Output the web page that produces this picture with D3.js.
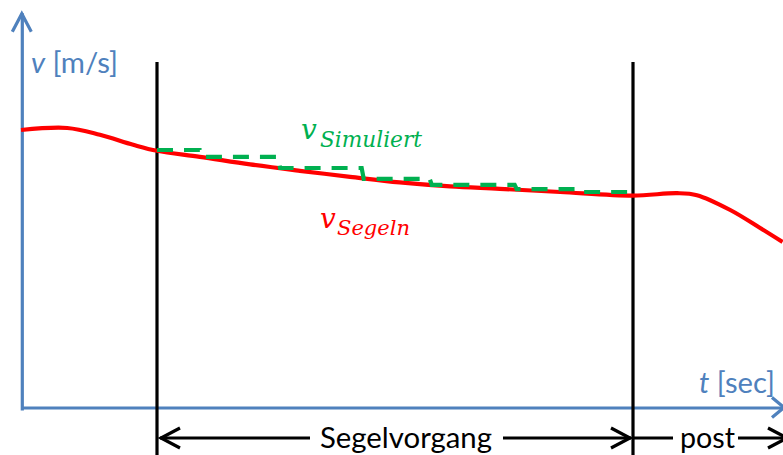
<!DOCTYPE html>
<html>
<head>
<meta charset="utf-8">
<script src="https://cdn.jsdelivr.net/npm/d3@7"></script>
<style>
  html, body { margin: 0; padding: 0; background: #fff; }
  svg { display: block; }
</style>
</head>
<body>
<svg id="chart" width="783" height="455"></svg>
<script>
// Measured speed while sailing (t in s, v in m/s)
const segelTime  = [0, 0.68, 1.16, 1.65, 2.0, 2.63, 3.37, 4.1, 4.84, 5.57, 6.31, 7.04, 7.93, 9.0, 9.65, 9.94, 10.43, 10.87, 11.2];
const segelSpeed = [6.95, 7.0, 6.83, 6.58, 6.43, 6.28, 6.09, 5.93, 5.78, 5.64, 5.54, 5.48, 5.4, 5.31, 5.37, 5.32, 4.95, 4.5, 4.15];

// Simulated speed: piecewise constant steps during the sailing phase
const simStepStart = [2.0, 2.63, 3.78, 5.01, 6.01, 7.26, 8.22];
const simStepSpeed = [6.45, 6.28, 6.0, 5.73, 5.58, 5.47, 5.4];
const simEnd = 9.0;

// Phase boundaries
const phaseBounds = [2.0, 9.0];
const phaseLabels = ["Segelvorgang", "post"];

const W = 783, H = 455;
const BLUE = "#4F81BD", RED = "#FF0000", GREEN = "#00B050";
const svg = d3.select("#chart");
svg.append("rect").attr("width", W).attr("height", H).attr("fill", "#fff");

const x = d3.scaleLinear().domain([0, 11.2]).range([21, 782.6]);
const y = d3.scaleLinear().domain([0, 10]).range([408, 8]);

// fit a text element to a given width by adjusting its font size
function fit(sel, width) {
  const base = parseFloat(sel.attr("font-size"));
  const w = sel.node().getComputedTextLength();
  sel.attr("font-size", (base * width / w).toFixed(2));
  return sel;
}

// Axes (domain lines only, no ticks)
const xAxisG = svg.append("g").attr("transform", `translate(0,${y(0) - 0.5})`)
  .call(d3.axisBottom(x).tickValues([]).tickSizeOuter(0));
const yAxisG = svg.append("g").attr("transform", `translate(${x(0) + 0.8},0)`)
  .call(d3.axisLeft(y.copy().domain([0, 9.88]).range([y(0) + 2, y(9.88)])).tickValues([]).tickSizeOuter(0));
[xAxisG, yAxisG].forEach(g => g.select(".domain").attr("stroke", BLUE).attr("stroke-width", 3.2));

// Axis arrow heads
const yTop = y(9.88), xAxisY = y(0) - 0.5, yAxisX = x(0) + 0.8;
svg.append("path")
  .attr("d", `M${yAxisX - 9.5},${yTop + 19}L${yAxisX},${yTop + 1}L${yAxisX + 9.5},${yTop + 19}`)
  .attr("fill", "none").attr("stroke", BLUE).attr("stroke-width", 3.2);
svg.append("path")
  .attr("d", `M${W - 11},${xAxisY - 10}L${W + 1},${xAxisY}L${W - 11},${xAxisY + 10}`)
  .attr("fill", "none").attr("stroke", BLUE).attr("stroke-width", 3.2);

// Axis titles
const vTitle = svg.append("text").attr("x", 31).attr("y", 73)
  .attr("font-family", "Lato, 'Open Sans', sans-serif").attr("font-size", 28).attr("fill", BLUE);
vTitle.append("tspan").attr("font-style", "italic").text("v");
vTitle.append("tspan").text(" [m/s]");
fit(vTitle, 87);

const tTitle = svg.append("text").attr("x", 699).attr("y", 393)
  .attr("font-family", "Lato, 'Open Sans', sans-serif").attr("font-size", 28).attr("fill", BLUE);
tTitle.append("tspan").attr("font-style", "italic").text("t");
tTitle.append("tspan").text(" [sec]");
fit(tTitle, 76);

// Phase boundary lines
phaseBounds.forEach(t => {
  svg.append("line")
    .attr("x1", x(t)).attr("x2", x(t))
    .attr("y1", y(8.65)).attr("y2", H + 2)
    .attr("stroke", "#000").attr("stroke-width", 3.2);
});

// Measured sailing speed
const line = d3.line().x(d => x(d[0])).y(d => y(d[1])).curve(d3.curveCatmullRom.alpha(0.5));
svg.append("path")
  .datum(segelTime.map((t, i) => [t, segelSpeed[i]]))
  .attr("d", line)
  .attr("fill", "none").attr("stroke", RED).attr("stroke-width", 4.2)
  .attr("stroke-linejoin", "round");

// Simulated speed as a stepped dashed line
const simPts = [];
simStepStart.forEach((t, i) => {
  if (i > 0) simPts.push([t, simStepSpeed[i - 1]]);
  simPts.push([i > 0 ? t + 0.03 : t, simStepSpeed[i]]);
});
simPts.push([simEnd, simStepSpeed[simStepSpeed.length - 1]]);
svg.append("path")
  .datum(simPts)
  .attr("d", d3.line().x(d => x(d[0])).y(d => y(d[1])))
  .attr("fill", "none").attr("stroke", GREEN).attr("stroke-width", 4.2)
  .attr("stroke-dasharray", "16,11");

// Series labels (math style)
function mathLabel(xv, yv, xs, ys, sub, subWidth, color) {
  svg.append("text").attr("x", xv).attr("y", yv)
    .attr("font-family", "'DejaVu Serif', serif").attr("font-style", "italic")
    .attr("font-size", 28).attr("fill", color).text("v");
  const s = svg.append("text").attr("x", xs).attr("y", ys)
    .attr("font-family", "'DejaVu Serif', serif").attr("font-style", "italic")
    .attr("font-size", 19).attr("fill", color).text(sub);
  fit(s, subWidth);
}
mathLabel(301, 139, 320, 147, "Simuliert", 102, GREEN);
mathLabel(320, 228, 337, 235, "Segeln", 73, RED);

// Phase arrows below the time axis
const arrowY = 438;
const arrows = svg.append("g").attr("stroke", "#000").attr("stroke-width", 3.2).attr("fill", "none");
const x0 = x(phaseBounds[0]), x1 = x(phaseBounds[1]);
arrows.append("path").attr("d", `M${x0 + 3},${arrowY}H310`);
arrows.append("path").attr("d", `M${x0 + 23},${arrowY - 10}L${x0 + 4},${arrowY}L${x0 + 23},${arrowY + 10}`);
arrows.append("path").attr("d", `M503,${arrowY}H${x1 - 2}`);
arrows.append("path").attr("d", `M${x1 - 22},${arrowY - 10}L${x1 - 3},${arrowY}L${x1 - 22},${arrowY + 10}`);
arrows.append("path").attr("d", `M${x1},${arrowY}H673`);
arrows.append("path").attr("d", `M738,${arrowY}H${W}`);
arrows.append("path").attr("d", `M${W - 15},${arrowY - 10}L${W + 4},${arrowY}L${W - 15},${arrowY + 10}`);

const seg = svg.append("text").attr("x", 320).attr("y", 448)
  .attr("font-family", "Lato, 'Open Sans', sans-serif").attr("font-size", 29).attr("fill", "#000")
  .text(phaseLabels[0]);
fit(seg, 172);
const post = svg.append("text").attr("x", 680).attr("y", 448)
  .attr("font-family", "Lato, 'Open Sans', sans-serif").attr("font-size", 29).attr("fill", "#000")
  .text(phaseLabels[1]);
fit(post, 55);
</script>
</body>
</html>
